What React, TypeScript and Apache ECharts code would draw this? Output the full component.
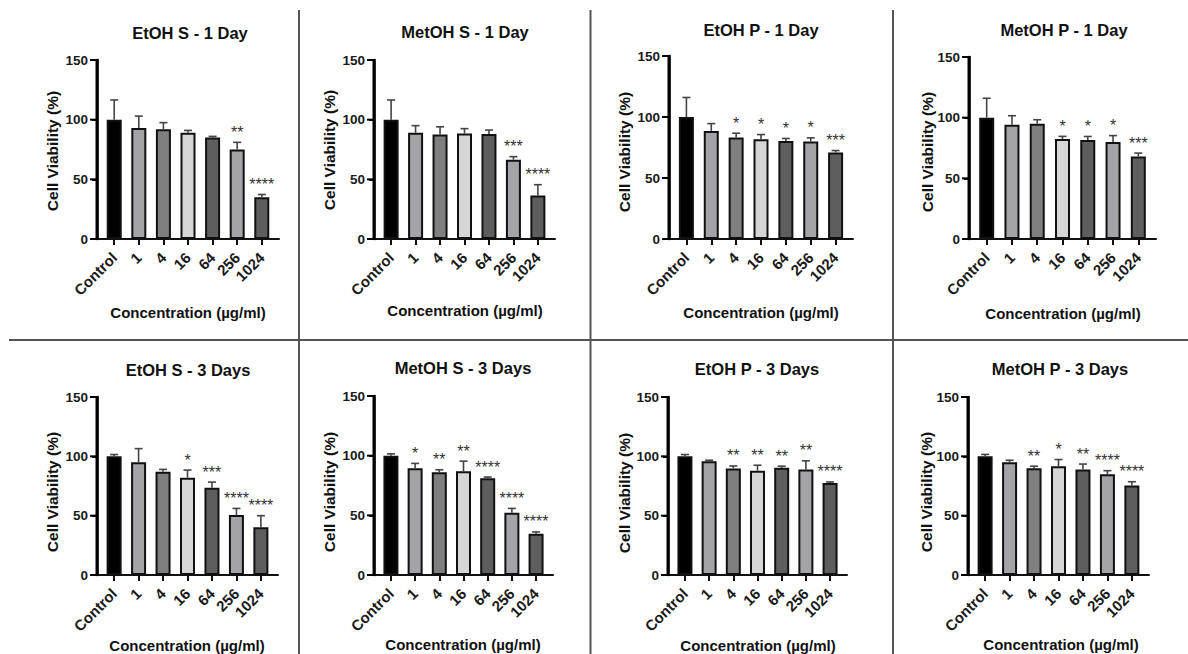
import React, { useEffect, useRef } from "react";
import * as echarts from "echarts";

// ---------- data ----------
const categories = ["Control", "1", "4", "16", "64", "256", "1024"];
const barColors = ["#000000", "#a3a3a8", "#7f7f7f", "#d6d6d6", "#5e5e5e", "#a3a3a8", "#5e5e5e"];
const yTicks = [0, 50, 100, 150];

const etohS1Mean = [100, 93, 92, 89, 85, 75, 35];
const etohS1Err = [16.5, 10, 5.5, 2, 1, 6, 2.3];
const etohS1Stars = ["", "", "", "", "", "**", "****"];

const metohS1Mean = [100, 89, 87.5, 88.5, 88, 66.5, 36.5];
const metohS1Err = [16.5, 6, 6.5, 4, 3.3, 2.5, 9];
const metohS1Stars = ["", "", "", "", "", "***", "****"];

const etohP1Mean = [100, 88.6, 83.2, 81.8, 80.4, 79.9, 70.9];
const etohP1Err = [16, 6, 3.5, 3.8, 2, 3, 1.6];
const etohP1Stars = ["", "", "*", "*", "*", "*", "***"];

const metohP1Mean = [100, 94.2, 95, 82.4, 81.5, 80, 68];
const metohP1Err = [16, 7.4, 3.3, 2.2, 3, 5.2, 2.8];
const metohP1Stars = ["", "", "", "*", "*", "*", "***"];

const etohS3Mean = [100, 95, 87, 82, 73.5, 50.5, 40.2];
const etohS3Err = [1.5, 11.5, 2, 6.4, 4.8, 5.6, 9.8];
const etohS3Stars = ["", "", "", "*", "***", "****", "****"];

const metohS3Mean = [100, 89.5, 86, 87, 81, 52.2, 34.5];
const metohS3Err = [1.5, 4, 2.2, 8.4, 1.1, 3.6, 1.6];
const metohS3Stars = ["", "*", "**", "**", "****", "****", "****"];

const etohP3Mean = [100, 95.9, 89.7, 87.9, 90.3, 88.9, 77.6];
const etohP3Err = [1.5, 0.8, 2.2, 4.6, 1.4, 7.3, 0.8];
const etohP3Stars = ["", "", "**", "**", "**", "**", "****"];

const metohP3Mean = [100, 95, 90, 91.7, 89, 84.8, 75.5];
const metohP3Err = [1.6, 1.7, 1.7, 5.6, 4.5, 3.1, 3.1];
const metohP3Stars = ["", "", "**", "*", "**", "****", "****"];

const titles = [
  "EtOH S - 1 Day", "MetOH S - 1 Day", "EtOH P - 1 Day", "MetOH P - 1 Day",
  "EtOH S - 3 Days", "MetOH S - 3 Days", "EtOH P - 3 Days", "MetOH P - 3 Days",
];
const xAxisName = "Concentration (µg/ml)";
const yAxisName = "Cell Viability (%)";

const panels = [
  { mean: etohS1Mean, err: etohS1Err, stars: etohS1Stars },
  { mean: metohS1Mean, err: metohS1Err, stars: metohS1Stars },
  { mean: etohP1Mean, err: etohP1Err, stars: etohP1Stars },
  { mean: metohP1Mean, err: metohP1Err, stars: metohP1Stars },
  { mean: etohS3Mean, err: etohS3Err, stars: etohS3Stars },
  { mean: metohS3Mean, err: metohS3Err, stars: metohS3Stars },
  { mean: etohP3Mean, err: etohP3Err, stars: etohP3Stars },
  { mean: metohP3Mean, err: metohP3Err, stars: metohP3Stars },
];

// ---------- layout ----------
const X_MIN = -0.7;
const X_MAX = 6.7;
const layout = [
  { grid: { left: 97, top: 60, width: 182, height: 179 }, title: [190, 33], xName: [188, 312], yName: [52, 151] },
  { grid: { left: 374, top: 60, width: 181, height: 179 }, title: [465, 32], xName: [465, 310], yName: [329, 150] },
  { grid: { left: 669, top: 56, width: 184, height: 183 }, title: [761, 30], xName: [761, 312], yName: [624, 152] },
  { grid: { left: 969, top: 57, width: 187, height: 182 }, title: [1064, 30], xName: [1063, 313], yName: [927, 152] },
  { grid: { left: 97, top: 397, width: 181, height: 178 }, title: [188, 370], xName: [187, 645], yName: [52, 492] },
  { grid: { left: 374, top: 396, width: 179, height: 179 }, title: [463, 368], xName: [463, 644], yName: [329, 492] },
  { grid: { left: 668, top: 397, width: 179, height: 178 }, title: [757, 369], xName: [758, 645], yName: [624, 493] },
  { grid: { left: 968, top: 397, width: 181, height: 178 }, title: [1060, 369], xName: [1061, 644], yName: [926, 492] },
];

const FONT = '"Liberation Sans", Arial, Helvetica, sans-serif';
const AX = "#111";

function baseGraphic() {
  const graphic: any[] = [];
  const divider = { stroke: "#555", lineWidth: 2 };
  graphic.push({ type: "line", shape: { x1: 9, y1: 340, x2: 1188, y2: 340 }, style: divider });
  [299, 590.5, 893].forEach((x) => {
    graphic.push({ type: "line", shape: { x1: x, y1: 10, x2: x, y2: 654 }, style: divider });
  });
  layout.forEach((l, k) => {
    const textStyle = {
      fill: "#111",
      fontWeight: "bold",
      fontFamily: FONT,
      align: "center",
      verticalAlign: "middle",
      textAlign: "center",
      textVerticalAlign: "middle",
    };
    graphic.push({ type: "text", x: l.title[0], y: l.title[1], style: { ...textStyle, text: titles[k], fontSize: 16.5 } });
    graphic.push({ type: "text", x: l.xName[0], y: l.xName[1], style: { ...textStyle, text: xAxisName, fontSize: 15 } });
    graphic.push({
      type: "text",
      x: l.yName[0],
      y: l.yName[1],
      rotation: Math.PI / 2,
      style: { ...textStyle, text: yAxisName, fontSize: 15.5 },
    });
  });
  return graphic;
}

function buildOption() {
  const idx = categories.map((_, i) => i);
  const grid = layout.map((l) => ({ ...l.grid }));
  const xAxis = panels.map((_, k) => ({
    gridIndex: k,
    type: "value",
    position: "bottom",
    min: X_MIN,
    max: X_MAX,
    splitLine: { show: false },
    axisLine: { show: true, onZero: false, lineStyle: { color: AX, width: 2 } },
    axisTick: { show: true, customValues: idx, length: 6, lineStyle: { color: AX, width: 2 } },
    axisLabel: {
      show: true,
      customValues: idx,
      formatter: (v: number) => categories[Math.round(v)] ?? "",
      rotate: 45,
      margin: 16,
      fontFamily: FONT,
      fontWeight: "bold",
      fontSize: 15,
      color: "#1a1a1a",
    },
  }));
  const yAxis = panels.map((_, k) => ({
    gridIndex: k,
    type: "value",
    position: "left",
    min: 0,
    max: 150,
    interval: 50,
    splitLine: { show: false },
    axisLine: { show: true, onZero: false, lineStyle: { color: AX, width: 2.5 } },
    axisTick: { show: true, length: 5, lineStyle: { color: AX, width: 2 } },
    axisLabel: {
      margin: 9,
      fontFamily: FONT,
      fontWeight: "bold",
      fontSize: 13.5,
      color: "#1a1a1a",
      formatter: (v: number) => (yTicks.includes(v) ? String(v) : ""),
    },
  }));
  const series: any[] = [];
  panels.forEach((p, k) => {
    // y axis spine and ticks as filled rects, through the panel's scales
    series.push({
      type: "custom",
      xAxisIndex: k,
      yAxisIndex: k,
      z: 10,
      clip: false,
      silent: true,
      encode: { x: 0, y: 1 },
      data: [[X_MIN, 0]],
      renderItem: (_params: any, api: any) => {
        const b = api.coord([X_MIN, yTicks[0]]);
        const t = api.coord([X_MIN, yTicks[yTicks.length - 1]]);
        const children: any[] = [
          {
            type: "rect",
            shape: { x: Math.round(b[0]) - 1.5, y: t[1] - 1, width: 3, height: b[1] - t[1] + 2 },
            style: { fill: "#000" },
          },
        ];
        yTicks.forEach((v) => {
          const c = api.coord([X_MIN, v]);
          children.push({
            type: "rect",
            shape: { x: Math.round(c[0]) - 7, y: c[1] - 1, width: 7, height: 2 },
            style: { fill: "#000" },
          });
        });
        return { type: "group", children };
      },
    });
    series.push({
      type: "bar",
      xAxisIndex: k,
      yAxisIndex: k,
      barWidth: 15,
      z: 2,
      clip: false,
      itemStyle: { borderColor: "#111", borderWidth: 2 },
      data: p.mean.map((v, i) => ({ value: [i, v], itemStyle: { color: barColors[i] } })),
    });
    series.push({
      type: "custom",
      xAxisIndex: k,
      yAxisIndex: k,
      z: 3,
      clip: false,
      encode: { x: 0, y: 1 },
      data: p.mean.map((v, i) => [i, v, p.err[i]]),
      renderItem: (params: any, api: any) => {
        const i = api.value(0);
        const v = api.value(1);
        const e = api.value(2);
        const base = api.coord([i, v]);
        const top = api.coord([i, v + e]);
        const star = p.stars[params.dataIndex];
        const children: any[] = [
          {
            type: "line",
            shape: { x1: base[0], y1: base[1], x2: top[0], y2: top[1] },
            style: { stroke: "#444", lineWidth: 1.6 },
          },
          {
            type: "line",
            shape: { x1: top[0] - 4, y1: top[1], x2: top[0] + 4, y2: top[1] },
            style: { stroke: "#444", lineWidth: 1.6 },
          },
        ];
        if (star) {
          children.push({
            type: "text",
            x: top[0],
            y: top[1] - 10,
            style: {
              text: star,
              fill: "#333333",
              fontSize: 16,
              fontFamily: FONT,
              align: "center",
              verticalAlign: "middle",
              textAlign: "center",
              textVerticalAlign: "middle",
            },
          });
        }
        return { type: "group", children };
      },
    });
  });

  return {
    animation: false,
    backgroundColor: "#ffffff",
    grid,
    xAxis,
    yAxis,
    series,
    graphic: baseGraphic(),
  };
}

export default function App() {
  const ref = useRef<HTMLDivElement>(null);
  useEffect(() => {
    if (!ref.current) return;
    const chart = echarts.init(ref.current, undefined, { renderer: "svg" });
    chart.setOption(buildOption() as any);
    return () => chart.dispose();
  }, []);
  return (
    <div
      ref={ref}
      style={{ position: "absolute", left: 0, top: 0, width: 1188, height: 654, background: "#fff" }}
    />
  );
}
